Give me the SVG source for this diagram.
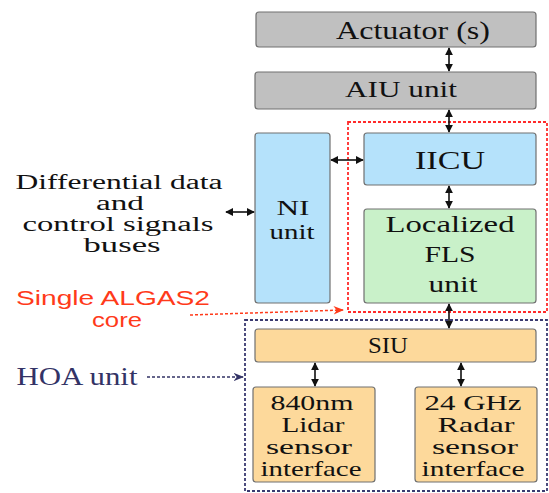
<svg xmlns="http://www.w3.org/2000/svg" width="549" height="493" viewBox="0 0 549 493">
<defs>
<style>
.box{stroke:#707070;stroke-width:1.2}
.gray{fill:#c0c0c0}
.blue{fill:#b5e2fb}
.green{fill:#c9f1c9}
.orange{fill:#fdd99b}
.t{fill:#111;text-anchor:middle}
.conn{stroke:#111;stroke-width:1.6;fill:none}
</style>
<marker id="ah" viewBox="0 0 10 10" refX="9" refY="5" markerWidth="5" markerHeight="5" orient="auto-start-reverse">
<path d="M0,0 L10,5 L0,10 z" fill="#111"/>
</marker>
<marker id="ahr" viewBox="0 0 10 10" refX="9" refY="5" markerWidth="7" markerHeight="7" orient="auto">
<path d="M0,1 L10,5 L0,9 L3,5 z" fill="#ff3a1a"/>
</marker>
<marker id="ahn" viewBox="0 0 10 10" refX="9" refY="5" markerWidth="7" markerHeight="7" orient="auto">
<path d="M0,1 L10,5 L0,9 L3,5 z" fill="#333366"/>
</marker>
</defs>
<rect width="549" height="493" fill="#fff"/>

<g id="core-boundary">
<rect x="348" y="122" width="199" height="190" fill="none" stroke="#ff2a2a" stroke-width="1.8" stroke-dasharray="3,2"/>
</g>
<g id="hoa-boundary">
<rect x="245" y="320" width="302" height="171" fill="none" stroke="#3a3a70" stroke-width="1.8" stroke-dasharray="3,2"/>
</g>

<g font-family="Liberation Serif, serif">
<g id="actuator">
<rect class="box gray" x="256" y="12" width="280" height="35" rx="3"/>
<text class="t" x="413" y="39" font-size="25" textLength="154" lengthAdjust="spacingAndGlyphs">Actuator (s)</text>
</g>
<g id="aiu">
<rect class="box gray" x="255" y="72" width="281" height="37" rx="3"/>
<text class="t" x="401" y="97" font-size="23" textLength="112" lengthAdjust="spacingAndGlyphs">AIU unit</text>
</g>
<g id="ni">
<rect class="box blue" x="255" y="133" width="75" height="170" rx="3"/>
<text class="t" x="293" y="215" font-size="21" textLength="33" lengthAdjust="spacingAndGlyphs">NI</text>
<text class="t" x="292" y="239" font-size="21" textLength="45" lengthAdjust="spacingAndGlyphs">unit</text>
</g>
<g id="iicu">
<rect class="box blue" x="364" y="133" width="172" height="52" rx="3"/>
<text class="t" x="450" y="169" font-size="25" textLength="70" lengthAdjust="spacingAndGlyphs">IICU</text>
</g>
<g id="fls">
<rect class="box green" x="364" y="209" width="172" height="94" rx="3"/>
<text class="t" x="450" y="232" font-size="24" textLength="129" lengthAdjust="spacingAndGlyphs">Localized</text>
<text class="t" x="450" y="262" font-size="24" textLength="51" lengthAdjust="spacingAndGlyphs">FLS</text>
<text class="t" x="453" y="292" font-size="24" textLength="49" lengthAdjust="spacingAndGlyphs">unit</text>
</g>
<g id="siu">
<rect class="box orange" x="255" y="329" width="281" height="33" rx="3"/>
<text class="t" x="388" y="353" font-size="24" textLength="40" lengthAdjust="spacingAndGlyphs">SIU</text>
</g>
<g id="lidar">
<rect class="box orange" x="253" y="387" width="122" height="95" rx="3"/>
<text class="t" x="312" y="410" font-size="21" textLength="83" lengthAdjust="spacingAndGlyphs">840nm</text>
<text class="t" x="313" y="432" font-size="21" textLength="63" lengthAdjust="spacingAndGlyphs">Lidar</text>
<text class="t" x="309" y="454" font-size="21" textLength="86" lengthAdjust="spacingAndGlyphs">sensor</text>
<text class="t" x="311" y="476" font-size="21" textLength="101" lengthAdjust="spacingAndGlyphs">interface</text>
</g>
<g id="radar">
<rect class="box orange" x="415" y="387" width="122" height="95" rx="3"/>
<text class="t" x="473" y="410" font-size="21" textLength="97" lengthAdjust="spacingAndGlyphs">24 GHz</text>
<text class="t" x="476" y="432" font-size="21" textLength="77" lengthAdjust="spacingAndGlyphs">Radar</text>
<text class="t" x="475" y="454" font-size="21" textLength="86" lengthAdjust="spacingAndGlyphs">sensor</text>
<text class="t" x="473" y="476" font-size="21" textLength="103" lengthAdjust="spacingAndGlyphs">interface</text>
</g>

<g id="bus-label">
<text class="t" x="119" y="189" font-size="20" textLength="207" lengthAdjust="spacingAndGlyphs">Differential data</text>
<text class="t" x="120" y="210" font-size="20" textLength="48" lengthAdjust="spacingAndGlyphs">and</text>
<text class="t" x="118" y="231" font-size="20" textLength="191" lengthAdjust="spacingAndGlyphs">control signals</text>
<text class="t" x="122" y="252" font-size="20" textLength="77" lengthAdjust="spacingAndGlyphs">buses</text>
</g>
<g id="hoa-label">
<text x="77" y="385" font-size="25" fill="#333366" text-anchor="middle" textLength="121" lengthAdjust="spacingAndGlyphs">HOA unit</text>
</g>
</g>
<g id="core-label" font-family="Liberation Sans, sans-serif" fill="#ff3a1a" text-anchor="middle">
<text x="113" y="305" font-size="21" textLength="194" lengthAdjust="spacingAndGlyphs">Single ALGAS2</text>
<text x="117" y="327" font-size="21" textLength="50" lengthAdjust="spacingAndGlyphs">core</text>
</g>

<g id="connectors">
<line class="conn" x1="449" y1="48" x2="449" y2="71" marker-start="url(#ah)" marker-end="url(#ah)"/>
<line class="conn" x1="449" y1="110" x2="449" y2="132" marker-start="url(#ah)" marker-end="url(#ah)"/>
<line class="conn" x1="331" y1="160" x2="363" y2="160" marker-start="url(#ah)" marker-end="url(#ah)"/>
<line class="conn" x1="449" y1="186" x2="449" y2="208" marker-start="url(#ah)" marker-end="url(#ah)"/>
<line class="conn" x1="449" y1="304" x2="449" y2="328" marker-start="url(#ah)" marker-end="url(#ah)"/>
<line class="conn" x1="315" y1="363" x2="315" y2="386" marker-start="url(#ah)" marker-end="url(#ah)"/>
<line class="conn" x1="461" y1="363" x2="461" y2="386" marker-start="url(#ah)" marker-end="url(#ah)"/>
<line class="conn" x1="226" y1="212" x2="254" y2="212" marker-start="url(#ah)" marker-end="url(#ah)"/>
<line x1="190" y1="315" x2="343" y2="310" stroke="#ff3a1a" stroke-width="1.5" stroke-dasharray="3,2" marker-end="url(#ahr)"/>
<line x1="147" y1="377" x2="243" y2="377" stroke="#333366" stroke-width="1.5" stroke-dasharray="3,2" marker-end="url(#ahn)"/>
</g>
</svg>
